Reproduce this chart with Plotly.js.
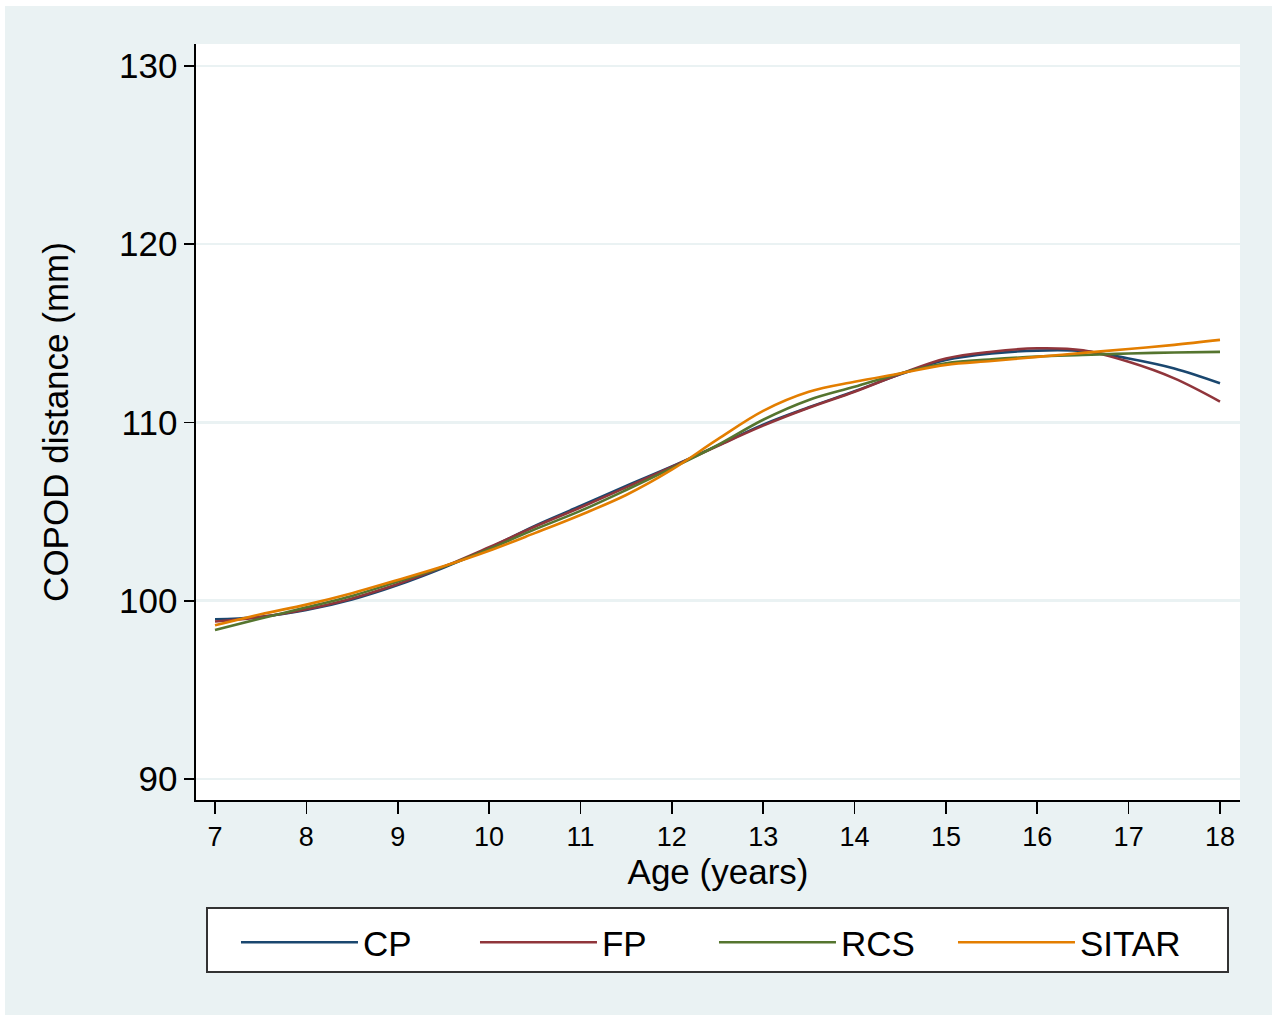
<!DOCTYPE html>
<html>
<head>
<meta charset="utf-8">
<script src="https://cdn.plot.ly/plotly-3.0.1.min.js"></script>
<style>
html,body{margin:0;padding:0;background:#ffffff;}
#chart{position:absolute;left:5px;top:6px;width:1267px;height:1009px;}
</style>
</head>
<body>
<div id="chart"></div>
<script>
// Age (years)
const ages = [7,7.5,8,8.5,9,9.5,10,10.5,11,11.5,12,12.5,13,13.5,14,14.5,15,15.5,16,16.5,17,17.5,18];
// COPOD distance (mm) by model
const cp    = [98.96,99.10,99.48,100.07,100.88,101.85,102.95,104.20,105.31,106.44,107.53,108.70,109.88,110.85,111.75,112.70,113.50,113.87,114.03,114.00,113.59,113.03,112.20];
const fp    = [98.83,99.08,99.52,100.13,100.94,101.90,103.00,104.15,105.23,106.36,107.50,108.68,109.82,110.82,111.72,112.72,113.59,113.97,114.16,114.05,113.40,112.47,111.17];
const rcs   = [98.36,99.00,99.63,100.27,101.07,101.90,102.90,104.00,105.04,106.21,107.44,108.72,110.15,111.26,112.00,112.75,113.32,113.54,113.69,113.78,113.87,113.92,113.96];
const sitar = [98.62,99.24,99.78,100.42,101.16,101.93,102.80,103.79,104.81,105.93,107.35,109.05,110.65,111.72,112.28,112.75,113.23,113.45,113.68,113.90,114.12,114.35,114.63];
const seriesNames = ["CP","FP","RCS","SITAR"];
const seriesColors = ["#1a476f","#90353b","#55752f","#e37e00"];
const xTicks = [7,8,9,10,11,12,13,14,15,16,17,18];
const yTicks = [90,100,110,120,130];

const FONT = "Liberation Sans, Arial, Helvetica, sans-serif";
const allY = [cp, fp, rcs, sitar];
const traces = allY.map((ys, i) => ({
  x: ages, y: ys, type: "scatter", mode: "lines",
  name: seriesNames[i],
  line: {color: seriesColors[i], width: 2.6, shape: "spline", smoothing: 1},
  hoverinfo: "skip"
}));

const layout = {
  width: 1267, height: 1009,
  paper_bgcolor: "#eaf2f3",
  plot_bgcolor: "#ffffff",
  margin: {l: 191, r: 32, t: 38, b: 215, pad: 0, autoexpand: false},
  font: {family: FONT, color: "#000000"},
  showlegend: true,
  legend: {
    orientation: "h",
    x: 0.0383, xanchor: "left",
    y: -0.1495, yanchor: "top",
    bgcolor: "rgba(0,0,0,0)",
    borderwidth: 0,
    font: {family: FONT, size: 35, color: "#000000"},
    itemwidth: 117,
    entrywidth: 107,
    traceorder: "normal"
  },
  shapes: [{
    type: "rect", xref: "paper", yref: "paper",
    x0: (207-196)/1044, x1: (1228-196)/1044,
    y0: (800-908)/756, y1: (800-972)/756,
    line: {color: "#333333", width: 2},
    fillcolor: "#ffffff", layer: "below"
  }],
  xaxis: {
    range: [6.792, 18.219],
    tickvals: xTicks,
    ticktext: xTicks.map(String),
    ticks: "outside", ticklen: 12, tickwidth: 1.6, tickcolor: "#000000",
    showline: true, linecolor: "#000000", linewidth: 1.6,
    showgrid: false, zeroline: false,
    tickfont: {family: FONT, size: 27, color: "#000000"},
    title: {text: "Age (years)", font: {family: FONT, size: 35, color: "#000000"}, standoff: 6}
  },
  yaxis: {
    range: [88.82, 131.23],
    tickvals: yTicks,
    ticktext: yTicks.map(String),
    ticks: "outside", ticklen: 10, tickwidth: 1.6, tickcolor: "#000000",
    showline: true, linecolor: "#000000", linewidth: 1.6,
    showgrid: true, gridcolor: "#eaf2f3", gridwidth: 2.5,
    zeroline: false,
    tickfont: {family: FONT, size: 35, color: "#000000"},
    title: {text: "COPOD distance (mm)", font: {family: FONT, size: 35, color: "#000000"}, standoff: 40}
  }
};

Plotly.newPlot("chart", traces, layout, {displayModeBar: false, staticPlot: true});
</script>
</body>
</html>
